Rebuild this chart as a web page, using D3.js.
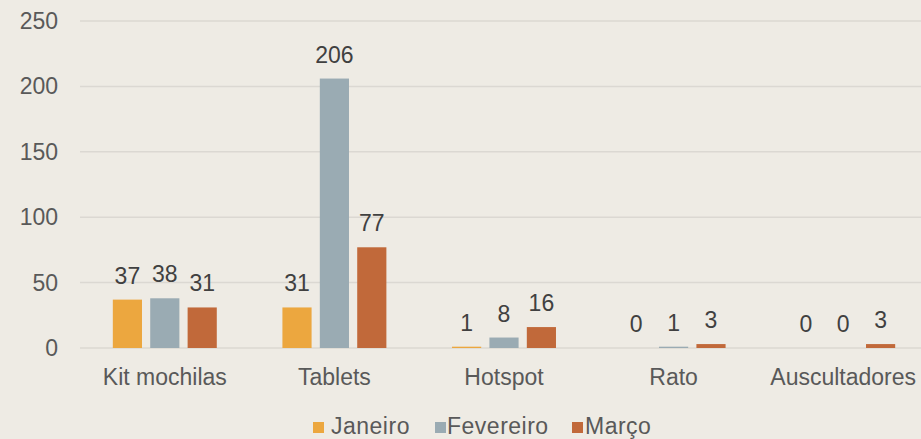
<!DOCTYPE html>
<html>
<head>
<meta charset="utf-8">
<script src="https://cdn.jsdelivr.net/npm/d3@7"></script>
<style>
  html, body { margin: 0; padding: 0; background: #eeebe4; }
  svg { display: block; font-family: "Liberation Sans", Arial, sans-serif; }
</style>
</head>
<body>
<svg class="chart" width="921" height="439"></svg>
<script>
var categories = ["Kit mochilas", "Tablets", "Hotspot", "Rato", "Auscultadores"]
var months = ["Janeiro", "Fevereiro", "Março"]
var janeiro = [37, 31, 1, 0, 0]
var fevereiro = [38, 206, 8, 1, 0]
var marco = [31, 77, 16, 3, 3]
var yTicks = [0, 50, 100, 150, 200, 250]

var colors = ["#eca73f", "#9aabb3", "#c1693a"]
var series = [janeiro, fevereiro, marco]

var chart = d3.select(".chart"),
    margin = {top: 21, right: 0, bottom: 91, left: 80},
    width = 848,
    height = 439 - margin.top - margin.bottom

var x0 = d3.scaleBand().domain(categories).range([0, width])
    .paddingInner(0.387).paddingOuter(0.1935)
var x1 = d3.scaleBand().domain(months).range([0, x0.bandwidth()]).paddingInner(0.22)
var y = d3.scaleLinear().domain([0, 250]).range([height, 0])

var g = chart.append("g")
    .attr("transform", "translate(" + margin.left + "," + margin.top + ")")

// gridlines
g.selectAll(".grid")
    .data(yTicks)
  .enter().append("line")
    .attr("x1", 0).attr("x2", 921)
    .attr("y1", function(d) { return y(d) })
    .attr("y2", function(d) { return y(d) })
    .attr("stroke", "#dbd8d2")
    .attr("stroke-width", 1.5)

// y tick labels
g.selectAll(".ytick")
    .data(yTicks)
  .enter().append("text")
    .attr("x", -22)
    .attr("y", function(d) { return y(d) })
    .attr("dy", "0.35em")
    .attr("text-anchor", "end")
    .attr("fill", "#595959")
    .style("font-size", "23px")
    .text(function(d) { return d })

var groups = g.selectAll(".group")
    .data(categories)
  .enter().append("g")
    .attr("transform", function(d) { return "translate(" + x0(d) + ",0)" })

groups.selectAll("rect")
    .data(function(d, i) { return months.map(function(m, j) { return {m: m, v: series[j][i], c: colors[j]} }) })
  .enter().append("rect")
    .attr("x", function(d) { return x1(d.m) })
    .attr("width", x1.bandwidth())
    .attr("y", function(d) { return y(d.v) })
    .attr("height", function(d) { return height - y(d.v) })
    .attr("fill", function(d) { return d.c })

groups.selectAll(".val")
    .data(function(d, i) { return months.map(function(m, j) { return {m: m, v: series[j][i]} }) })
  .enter().append("text")
    .attr("x", function(d) { return x1(d.m) + x1.bandwidth() / 2 })
    .attr("y", function(d) { return y(d.v) - 16 })
    .attr("text-anchor", "middle")
    .attr("fill", "#404040")
    .style("font-size", "23px")
    .text(function(d) { return d.v })

// category labels
g.selectAll(".xlab")
    .data(categories)
  .enter().append("text")
    .attr("x", function(d) { return x0(d) + x0.bandwidth() / 2 })
    .attr("y", height + 37)
    .attr("text-anchor", "middle")
    .attr("fill", "#595959")
    .style("font-size", "23px")
    .text(function(d) { return d })

// legend
var legendBox = [313, 435, 572]
var legendText = [331, 447, 585]
var legend = chart.selectAll(".legend")
    .data(months)
  .enter().append("g")

legend.append("rect")
    .attr("x", function(d, i) { return legendBox[i] })
    .attr("y", 422)
    .attr("width", 11).attr("height", 11)
    .attr("fill", function(d, i) { return colors[i] })

legend.append("text")
    .attr("x", function(d, i) { return legendText[i] })
    .attr("y", 434)
    .attr("fill", "#595959")
    .style("font-size", "23px")
    .style("letter-spacing", "0.5px")
    .text(function(d) { return d })
</script>
</body>
</html>
